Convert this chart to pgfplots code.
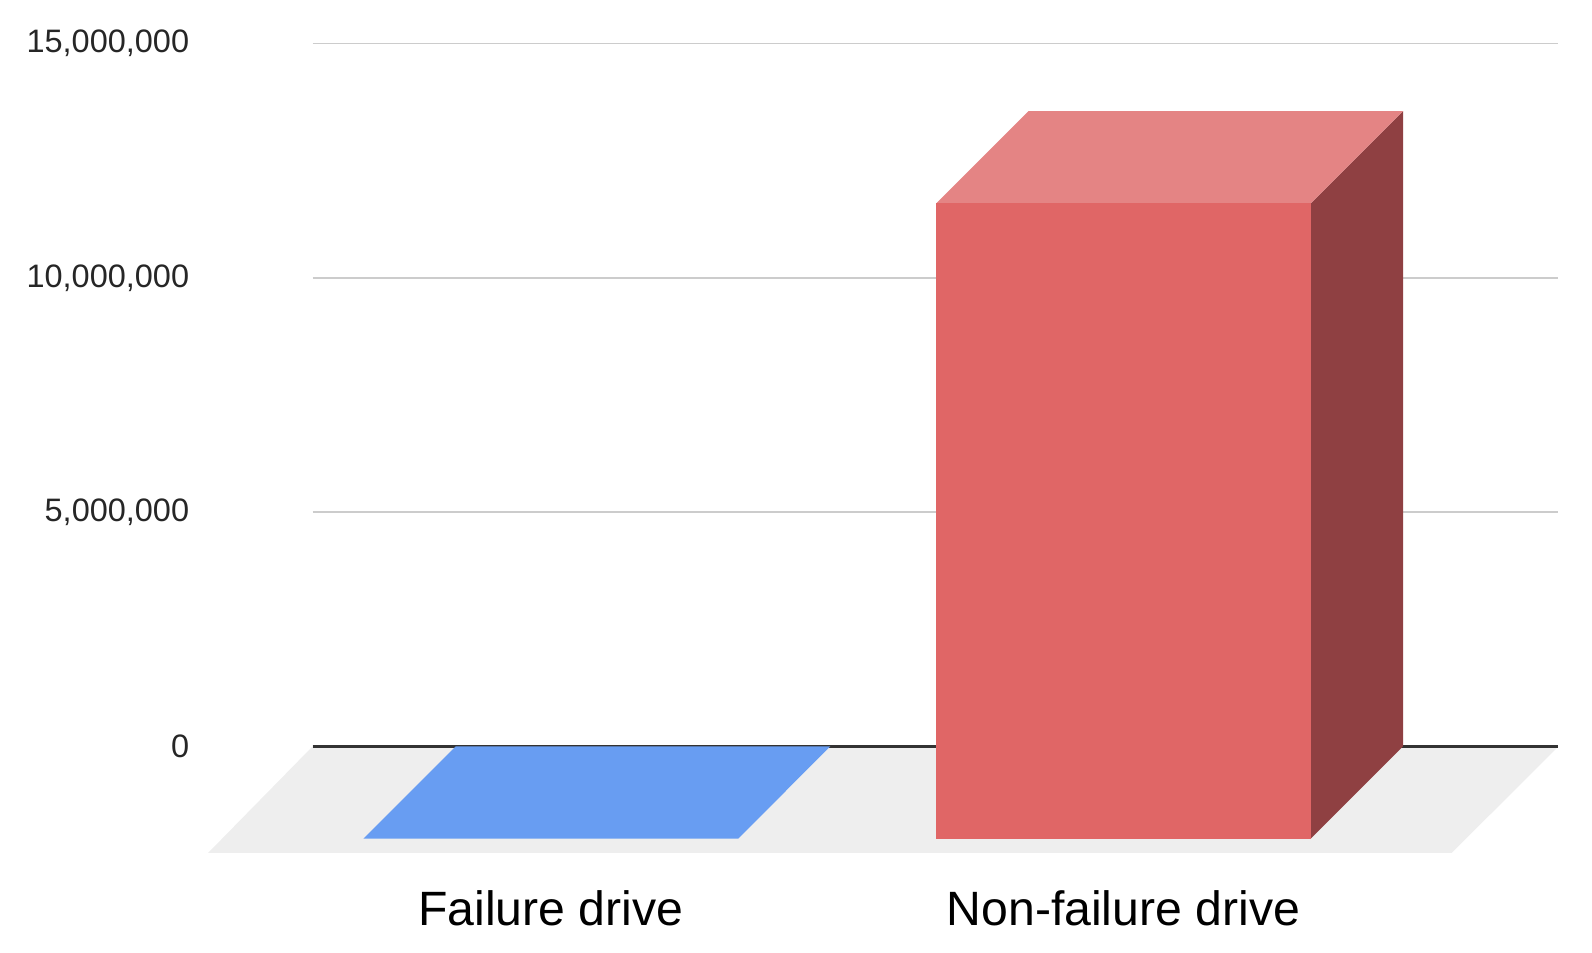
\documentclass[border=0pt]{standalone}
\usepackage{pgfplots}
\pgfplotsset{compat=1.18}
\usepackage{fontspec}
\setmainfont{Liberation Sans}

\definecolor{barblue}{HTML}{689DF2}
\definecolor{redfront}{HTML}{E06666}
\definecolor{redtop}{HTML}{E48484}
\definecolor{redside}{HTML}{8F4042}
\definecolor{floorgray}{HTML}{EEEEEE}
\definecolor{gridgray}{HTML}{CCCCCC}
\definecolor{zeroline}{HTML}{333333}

\begin{document}
\begin{tikzpicture}
\begin{axis}[
  scale only axis, width=12.27cm, height=7.97cm,
  xmin=-0.4158, xmax=1.7598, ymin=-2.2757e6, ymax=15e6,
  axis line style={draw=none}, major tick length=0pt,
  xtick={0,1}, xticklabels={Failure drive, Non-failure drive},
  ytick={0,5e6,10e6,15e6},
  yticklabels={0,{5,000,000},{10,000,000},{15,000,000}},
  scaled y ticks=false,
  ymajorgrids, grid style={color=gridgray, line width=0.45pt},
  yticklabel style={font=\fontsize{9.1}{11}\selectfont, color=black!85,
                    anchor=east, inner sep=0pt, xshift=-1.21cm},
  xticklabel style={font=\fontsize{13.5}{16}\selectfont, color=black,
                    anchor=north, inner sep=0pt, yshift=-0.36cm},
  clip=false,
]
% page extent
\path (axis cs:-0.9619,-4.40e6) rectangle (axis cs:1.8183,15.932e6);

% floor
\addplot[fill=floorgray, draw=none] coordinates
  {(-0.5984,-2.2757e6) (1.5736,-2.2757e6) (1.7598,0) (-0.4158,0)} -- cycle;
\addplot[draw=zeroline, line width=0.85pt] coordinates {(-0.4158,0) (1.7598,0)};

% Failure drive (about 0): only the top face shows
\addplot[fill=barblue, draw=none] coordinates
  {(-0.3271,-1.9725e6) (0.3271,-1.9725e6) (0.4884,0) (-0.1658,0)} -- cycle;

% Non-failure drive, 13,560,000
\addplot[fill=redside, draw=none] coordinates
  {(1.3271,-1.9725e6) (1.4884,0) (1.4884,13.56e6) (1.3271,11.5875e6)} -- cycle;
\addplot[fill=redtop, draw=none] coordinates
  {(0.6729,11.5875e6) (1.3271,11.5875e6) (1.4884,13.56e6) (0.8342,13.56e6)} -- cycle;
\addplot[fill=redfront, draw=none] coordinates
  {(0.6729,-1.9725e6) (1.3271,-1.9725e6) (1.3271,11.5875e6) (0.6729,11.5875e6)} -- cycle;
\end{axis}
\end{tikzpicture}
\end{document}
